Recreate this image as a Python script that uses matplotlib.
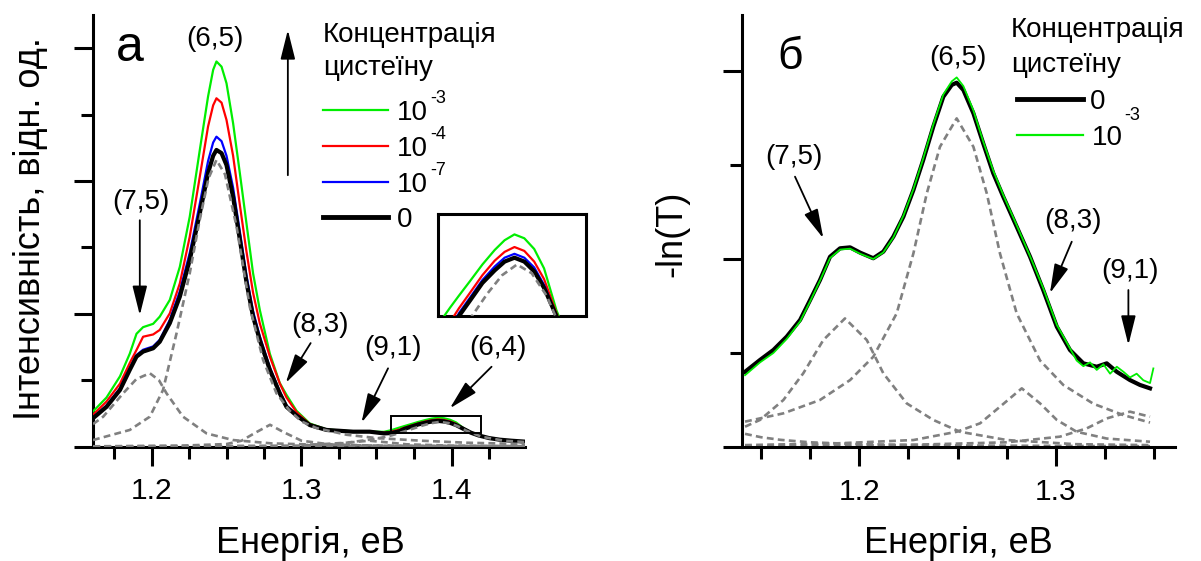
import matplotlib
matplotlib.use("Agg")
import matplotlib.pyplot as plt
from matplotlib.patches import Rectangle
from matplotlib.ticker import MultipleLocator

plt.rcParams['font.family'] = ['Liberation Sans', 'DejaVu Sans']

W, H = 1201, 561

# ---- panel a: luminescence spectra at several cysteine concentrations ----
energy_a = [1.161, 1.170, 1.179, 1.1855, 1.190, 1.1944, 1.2011, 1.2055, 1.2122, 1.2189,
            1.2255, 1.2322, 1.2377, 1.2411, 1.2433, 1.2467, 1.250, 1.2544, 1.2589, 1.2633,
            1.2677, 1.2722, 1.2789, 1.2855, 1.290, 1.2967, 1.3055, 1.3167, 1.3344, 1.3455,
            1.355, 1.360, 1.365, 1.3685, 1.373, 1.378, 1.383, 1.387, 1.391, 1.395,
            1.399, 1.403, 1.408, 1.413, 1.418, 1.425, 1.432, 1.440, 1.449]
pl_1e3 = [0.265, 0.37, 0.53, 0.70, 0.85, 0.90, 0.925, 0.979, 1.105, 1.355,
          1.732, 2.234, 2.636, 2.837, 2.90, 2.861, 2.736, 2.435, 2.059, 1.682,
          1.306, 1.03, 0.70, 0.48, 0.39, 0.27, 0.175, 0.13, 0.115, 0.113,
          0.112, 0.125, 0.143, 0.155, 0.17, 0.187, 0.202, 0.212, 0.218, 0.214,
          0.203, 0.183, 0.14, 0.108, 0.087, 0.066, 0.054, 0.046, 0.039]
pl_1e4 = [0.24, 0.34, 0.475, 0.63, 0.728, 0.828, 0.845, 0.879, 1.004, 1.23,
          1.581, 2.033, 2.41, 2.57, 2.623, 2.59, 2.46, 2.19, 1.82, 1.47,
          1.16, 0.929, 0.678, 0.477, 0.37, 0.26, 0.17, 0.128, 0.114, 0.113,
          0.106, 0.113, 0.128, 0.142, 0.158, 0.176, 0.191, 0.200, 0.205, 0.201,
          0.19, 0.172, 0.137, 0.106, 0.086, 0.065, 0.053, 0.045, 0.038]
pl_1e7 = [0.22, 0.31, 0.44, 0.59, 0.69, 0.73, 0.755, 0.805, 0.955, 1.17,
          1.46, 1.83, 2.15, 2.29, 2.334, 2.30, 2.19, 1.95, 1.62, 1.29,
          1.02, 0.83, 0.595, 0.415, 0.31, 0.24, 0.165, 0.127, 0.113, 0.113,
          0.102, 0.106, 0.12, 0.137, 0.153, 0.171, 0.185, 0.194, 0.198, 0.194,
          0.184, 0.166, 0.135, 0.105, 0.085, 0.065, 0.053, 0.045, 0.038]
pl_0 = [0.214, 0.30, 0.427, 0.578, 0.678, 0.716, 0.741, 0.79, 0.93, 1.13,
        1.406, 1.758, 2.06, 2.19, 2.234, 2.21, 2.12, 1.88, 1.56, 1.24,
        0.98, 0.803, 0.578, 0.402, 0.30, 0.235, 0.163, 0.126, 0.113, 0.113,
        0.100, 0.103, 0.115, 0.134, 0.150, 0.168, 0.181, 0.19, 0.194, 0.19,
        0.18, 0.163, 0.134, 0.105, 0.085, 0.065, 0.053, 0.045, 0.038]

# fitted components, panel a (grey dashed)
c65_a_e = [1.161, 1.1855, 1.1989, 1.2077, 1.2167, 1.2255, 1.232, 1.238, 1.2433, 1.249,
           1.2567, 1.2655, 1.2744, 1.2833, 1.2922, 1.30, 1.31, 1.33, 1.35, 1.38, 1.41, 1.449]
c65_a = [0.05, 0.126, 0.226, 0.427, 0.854, 1.306, 1.70, 2.02, 2.159, 2.05,
         1.657, 1.054, 0.653, 0.402, 0.27, 0.19, 0.14, 0.09, 0.065, 0.045, 0.03, 0.02]
c75_a_e = [1.161, 1.1678, 1.1811, 1.190, 1.1989, 1.205, 1.21, 1.221, 1.2367, 1.2544,
           1.28, 1.32, 1.38, 1.449]
c75_a = [0.17, 0.226, 0.402, 0.51, 0.553, 0.50, 0.402, 0.226, 0.10, 0.05,
         0.025, 0.012, 0.006, 0.004]
c83_a_e = [1.161, 1.22, 1.25, 1.26, 1.27, 1.279, 1.288, 1.30, 1.32, 1.36, 1.449]
c83_a = [0.003, 0.008, 0.02, 0.045, 0.11, 0.165, 0.11, 0.045, 0.016, 0.006, 0.003]
c91_a_e = [1.161, 1.30, 1.32, 1.335, 1.345, 1.355, 1.37, 1.40, 1.449]
c91_a = [0.002, 0.008, 0.018, 0.035, 0.045, 0.035, 0.018, 0.008, 0.004]
c64_a_e = [1.30, 1.33, 1.35, 1.36, 1.37, 1.38, 1.386, 1.392, 1.398, 1.404,
           1.41, 1.42, 1.435, 1.449]
c64_a = [0.01, 0.03, 0.06, 0.085, 0.12, 0.157, 0.176, 0.187, 0.178, 0.155,
         0.12, 0.075, 0.045, 0.035]
base_a_e = [1.161, 1.449]
base_a = [0.008, 0.008]

# ---- panel b: absorbance, -ln(T) ----
energy_b0 = [1.1419, 1.1495, 1.1563, 1.1631, 1.1699, 1.175, 1.18, 1.1851, 1.1902, 1.1953,
             1.2004, 1.2071, 1.2122, 1.2173, 1.2224, 1.2275, 1.2325, 1.2376, 1.2427, 1.247,
             1.2495, 1.2529, 1.258, 1.263, 1.2681, 1.2732, 1.28, 1.2868, 1.2935, 1.3004,
             1.3071, 1.3139, 1.3207, 1.3258, 1.3309, 1.3376, 1.3427, 1.3478]
abs_0 = [0.40, 0.463, 0.516, 0.587, 0.676, 0.782, 0.888, 1.012, 1.057, 1.062,
         1.034, 1.004, 1.039, 1.119, 1.225, 1.367, 1.527, 1.704, 1.863, 1.926,
         1.938, 1.899, 1.775, 1.615, 1.456, 1.331, 1.172, 1.012, 0.835, 0.64,
         0.516, 0.445, 0.427, 0.445, 0.40, 0.356, 0.33, 0.312]
energy_b3 = [1.1419, 1.1495, 1.1563, 1.1631, 1.1699, 1.175, 1.18, 1.1851, 1.1902, 1.1953,
             1.2004, 1.2071, 1.2122, 1.2173, 1.2224, 1.2275, 1.2325, 1.2376, 1.2427, 1.247,
             1.2495, 1.2529, 1.258, 1.263, 1.2681, 1.2732, 1.28, 1.2868, 1.2935, 1.3004,
             1.3071, 1.3105, 1.3139, 1.3173, 1.3207, 1.3241, 1.3275, 1.3309, 1.3343, 1.3376,
             1.341, 1.3444, 1.3478, 1.3495]
abs_1e3 = [0.382, 0.45, 0.50, 0.575, 0.668, 0.775, 0.885, 1.005, 1.05, 1.055,
           1.028, 1.0, 1.035, 1.115, 1.23, 1.372, 1.535, 1.715, 1.875, 1.945,
           1.966, 1.92, 1.79, 1.625, 1.47, 1.34, 1.18, 1.015, 0.845, 0.65,
           0.525, 0.46, 0.43, 0.45, 0.41, 0.44, 0.39, 0.427, 0.40, 0.37,
           0.39, 0.355, 0.34, 0.418]

c65_b_e = [1.1419, 1.1614, 1.18, 1.1953, 1.2071, 1.219, 1.2275, 1.2343, 1.241, 1.2495,
           1.258, 1.2648, 1.2715, 1.28, 1.2919, 1.3037, 1.319, 1.3342, 1.3478]
c65_b = [0.135, 0.179, 0.25, 0.356, 0.48, 0.711, 1.03, 1.349, 1.597, 1.748,
         1.597, 1.349, 1.03, 0.711, 0.46, 0.33, 0.23, 0.17, 0.13]
c75_b_e = [1.1419, 1.1495, 1.1614, 1.1715, 1.1817, 1.1927, 1.2038, 1.2122, 1.2241, 1.2376,
           1.2512, 1.275, 1.31, 1.3478]
c75_b = [0.108, 0.144, 0.25, 0.392, 0.569, 0.684, 0.569, 0.392, 0.232, 0.144,
         0.081, 0.037, 0.015, 0.01]
c83_b_e = [1.1419, 1.19, 1.2275, 1.2495, 1.2614, 1.2715, 1.2826, 1.2919, 1.3004, 1.3105,
           1.3258, 1.3478]
c83_b = [0.01, 0.02, 0.037, 0.081, 0.126, 0.214, 0.312, 0.232, 0.144, 0.081, 0.045, 0.028]
c91_b_e = [1.1419, 1.22, 1.275, 1.302, 1.3156, 1.3258, 1.3376, 1.3478]
c91_b = [0.005, 0.01, 0.025, 0.055, 0.099, 0.152, 0.188, 0.161]
clow_b_e = [1.1419, 1.15, 1.16, 1.175, 1.2, 1.25, 1.3478]
clow_b = [0.07, 0.052, 0.038, 0.025, 0.015, 0.008, 0.004]

conc_labels_a = ['10', '10', '10', '0']
conc_sup_a = ['-3', '-4', '-7', '']
colors_a = ['#00ee00', '#ff0000', '#0000ff', 'black']

GREY = '#808080'
DASH = (0, (2.6, 1.6))
LABEL_FS = 26
NOTE_FS = 20
LEG_FS = 20


def fx(x):
    return x / W


def fy(y):
    return 1 - y / H


def style_axes(ax, ymajor, xlim, ylim):
    ax.set_xlim(*xlim)
    ax.set_ylim(*ylim)
    for s in ['top', 'right']:
        ax.spines[s].set_visible(False)
    for s in ['left', 'bottom']:
        ax.spines[s].set_linewidth(2.2)
    ax.xaxis.set_major_locator(MultipleLocator(0.1))
    ax.xaxis.set_minor_locator(MultipleLocator(0.025))
    ax.yaxis.set_major_locator(MultipleLocator(ymajor))
    ax.yaxis.set_minor_locator(MultipleLocator(ymajor / 2))
    ax.tick_params(which='major', direction='out', length=14, width=2.2,
                   labelsize=21.5, pad=8)
    ax.tick_params(which='minor', direction='out', length=8.5, width=2.2)
    ax.tick_params(axis='y', labelleft=False)
    ax.patch.set_alpha(0)


def arrow(ax, tail, tip):
    ax.annotate('', xy=tip, xytext=tail,
                arrowprops=dict(arrowstyle='-|>,head_length=1.8,head_width=0.45',
                                mutation_scale=10, lw=1.3, color='black',
                                shrinkA=0, shrinkB=0))


fig = plt.figure(figsize=(W / 100, H / 100), dpi=100)

# ---------------- panel a ----------------
axa = fig.add_axes([fx(93), fy(446.7), (525 - 93) / W, (446.7 - 15) / H])
style_axes(axa, 1.0, (1.161, 1.449), (0, 3.25))

for ys, c, lw in zip([pl_1e3, pl_1e4, pl_1e7, pl_0], colors_a, [1.6, 1.6, 1.6, 3.0]):
    axa.plot(energy_a, ys, color=c, lw=lw, zorder=3)
for e, ys in [(c65_a_e, c65_a), (c75_a_e, c75_a), (c83_a_e, c83_a),
              (c91_a_e, c91_a), (c64_a_e, c64_a), (base_a_e, base_a)]:
    axa.plot(e, ys, color=GREY, lw=1.9, ls=DASH, zorder=4)

axa.add_patch(Rectangle((1.36, 0.105), 0.06, 0.126, fill=False, ec='black', lw=1.4, zorder=5))

axa.text(1.1855, 3.0, 'а', fontsize=36, ha='center', va='center')
lab = dict(fontsize=NOTE_FS, ha='center', va='center')
axa.text(1.2422, 3.067, '(6,5)', **lab)
axa.text(1.1929, 1.843, '(7,5)', **lab)
axa.text(1.3122, 0.916, '(8,3)', **lab)
axa.text(1.3609, 0.743, '(9,1)', **lab)
axa.text(1.4309, 0.743, '(6,4)', **lab)
arrow(axa, (1.1922, 1.705), (1.1922, 0.99))
arrow(axa, (1.3061, 0.78), (1.2895, 0.48))
arrow(axa, (1.3577, 0.59), (1.34, 0.181))
arrow(axa, (1.4267, 0.602), (1.3989, 0.289))
arrow(axa, (1.2909, 2.044), (1.2909, 3.137))

fig.text(fx(310), fy(553), 'Енергія, еВ', fontsize=LABEL_FS, ha='center', va='baseline')
fig.text(fx(40), fy(229), 'Інтенсивність, відн. од.', fontsize=LABEL_FS, rotation=90,
         rotation_mode='anchor', ha='center', va='baseline')

# legend a
fig.text(fx(323), fy(42), 'Концентрація', fontsize=LEG_FS, va='baseline')
fig.text(fx(323), fy(75), 'цистеїну', fontsize=LEG_FS, va='baseline')
for i, (yl, c, lw) in enumerate(zip([110, 146, 182, 217], colors_a, [1.6, 1.6, 1.6, 3.5])):
    fig.add_artist(plt.Line2D([fx(323), fx(388)], [fy(yl), fy(yl)], color=c, lw=lw))
    fig.text(fx(397), fy(yl + 10), conc_labels_a[i], fontsize=LEG_FS, va='baseline')
    if conc_sup_a[i]:
        fig.text(fx(430), fy(yl - 7), conc_sup_a[i], fontsize=13, va='baseline')

# inset
axi = fig.add_axes([fx(438), fy(316), (586 - 438) / W, (316 - 214) / H])
for ys, c, lw in zip([pl_1e3, pl_1e4, pl_1e7, pl_0], colors_a, [1.6, 1.6, 1.6, 3.0]):
    axi.plot(energy_a, ys, color=c, lw=lw, zorder=3)
axi.plot(c64_a_e, c64_a, color=GREY, lw=1.9, ls=DASH, zorder=4)
axi.set_xlim(1.36, 1.42)
axi.set_ylim(0.134, 0.239)
axi.set_xticks([])
axi.set_yticks([])
for s in axi.spines.values():
    s.set_linewidth(2.2)

# ---------------- panel b ----------------
axb = fig.add_axes([fx(741.7), fy(447), (1175 - 741.7) / W, (447 - 15) / H])
style_axes(axb, 1.0, (1.1402, 1.3605), (0, 2.298))

axb.plot(energy_b0, abs_0, color='black', lw=3.0, zorder=3)
axb.plot(energy_b3, abs_1e3, color='#00ee00', lw=1.3, zorder=3)
for e, ys in [(c65_b_e, c65_b), (c75_b_e, c75_b), (c83_b_e, c83_b),
              (c91_b_e, c91_b), (clow_b_e, clow_b)]:
    axb.plot(e, ys, color=GREY, lw=1.9, ls=DASH, zorder=2)

axb.text(1.1647, 2.074, 'б', fontsize=32, ha='center', va='center')
axb.text(1.2499, 2.069, '(6,5)', **lab)
axb.text(1.1668, 1.543, '(7,5)', **lab)
axb.text(1.3086, 1.202, '(8,3)', **lab)
axb.text(1.3376, 0.936, '(9,1)', **lab)
arrow(axb, (1.1673, 1.438), (1.1817, 1.11))
arrow(axb, (1.308, 1.092), (1.2969, 0.818))
arrow(axb, (1.3368, 0.835), (1.3368, 0.543))

fig.text(fx(958), fy(553), 'Енергія, еВ', fontsize=LABEL_FS, ha='center', va='baseline')
fig.text(fx(681), fy(234), '-ln(T)', fontsize=LABEL_FS, rotation=90,
         rotation_mode='anchor', ha='center', va='baseline')

# legend b
fig.text(fx(1011), fy(37), 'Концентрація', fontsize=LEG_FS, va='baseline')
fig.text(fx(1011), fy(72), 'цистеїну', fontsize=LEG_FS, va='baseline')
fig.add_artist(plt.Line2D([fx(1017), fx(1083)], [fy(99), fy(99)], color='black', lw=3.5))
fig.text(fx(1090), fy(109), '0', fontsize=LEG_FS, va='baseline')
fig.add_artist(plt.Line2D([fx(1017), fx(1083)], [fy(135), fy(135)], color='#00ee00', lw=1.6))
fig.text(fx(1092), fy(145), '10', fontsize=LEG_FS, va='baseline')
fig.text(fx(1124), fy(120), '-3', fontsize=13, va='baseline')

fig.savefig('out.png', dpi=100)
